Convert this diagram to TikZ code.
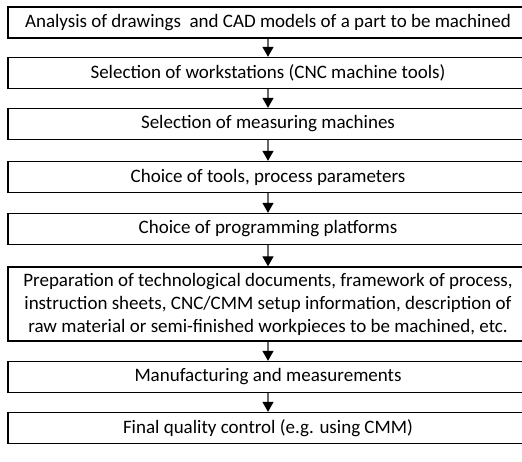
\documentclass[tikz,border=0pt]{standalone}
\usepackage{fontspec}
\setmainfont{Carlito}
\usetikzlibrary{arrows.meta}
\begin{document}
\begin{tikzpicture}[x=1bp,y=-1bp,
  stage/.style={draw=black, line width=1.3bp, minimum width=520bp,
    minimum height=31bp, inner sep=0pt, align=center,
    font=\fontsize{19bp}{23bp}\selectfont},
  flow/.style={draw=black!60, line width=1.3bp,
    -{Triangle[length=10bp,width=11bp,color=black,fill=black]}}]
\useasboundingbox (0,0) rectangle (522,462);
\clip (0,0) rectangle (522,462);
\node[stage] (s1) at (268,22.5) {Analysis of drawings\ \ and CAD models of a part to be machined};
\node[stage] (s2) at (268,73)   {Selection of workstations (CNC machine tools)};
\node[stage] (s3) at (268,124)  {Selection of measuring machines};
\node[stage] (s4) at (268,177)  {Choice of tools, process parameters};
\node[stage] (s5) at (268,229)  {Choice of programming platforms};
\node[stage, minimum height=74bp] (s6) at (268,304)
  {Preparation of technological documents, framework of process,\\
   instruction sheets, CNC/CMM setup information, description of\\
   raw material or semi-finished workpieces to be machined, etc.};
\node[stage] (s7) at (268,377)  {Manufacturing and measurements};
\node[stage] (s8) at (268,428)  {Final quality control (e.g. using CMM)};
\foreach \a/\b in {s1/s2,s2/s3,s3/s4,s4/s5,s5/s6,s6/s7,s7/s8}
  \draw[flow] (\a.south) -- (\b.north);
\end{tikzpicture}
\end{document}
